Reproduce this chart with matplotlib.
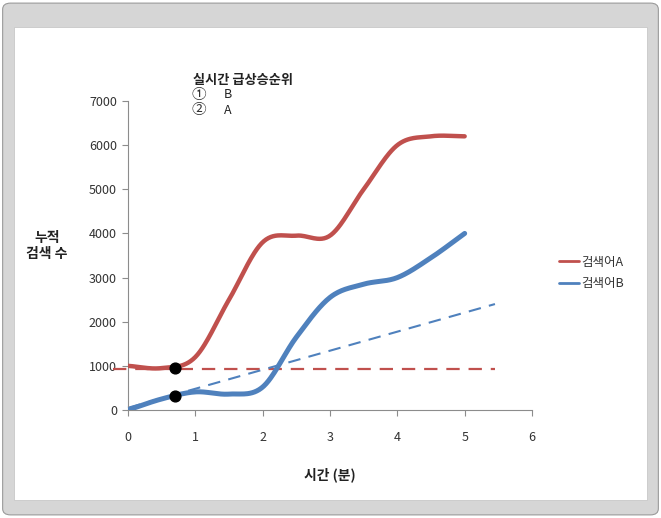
import numpy as np
import matplotlib
matplotlib.use("Agg")
import matplotlib.pyplot as plt
from matplotlib.patches import FancyBboxPatch, Rectangle

plt.rcParams['font.family'] = ['Noto Sans CJK KR', 'DejaVu Sans']

# ---- data ----
x_pts = [0, 0.5, 1, 1.5, 2, 2.5, 3, 3.5, 4, 4.5, 5]
series_a = [1000, 950, 1200, 2500, 3800, 3950, 3950, 5000, 6000, 6200, 6200]
series_b = [0, 250, 410, 360, 520, 1650, 2550, 2850, 3000, 3450, 4000]
names = ['검색어A', '검색어B']
ref_a_x = [-0.22, 5.45]
ref_a_y = [930, 930]
ref_b_x = [0, 5.45]
ref_b_y = [50, 2400]
mark_x = [0.7, 0.7]
mark_y = [955, 325]
xticks = [0, 1, 2, 3, 4, 5, 6]
yticks = [0, 1000, 2000, 3000, 4000, 5000, 6000, 7000]
rank_title = '실시간 급상승순위'
rank_items = [('①', 'B'), ('②', 'A')]

RED = '#C0504D'
BLUE = '#4F81BD'


def smooth(xs, ys, n=30):
    xs = np.asarray(xs, float)
    ys = np.asarray(ys, float)
    P = np.column_stack([xs, ys])
    P = np.vstack([2 * P[0] - P[1], P, 2 * P[-1] - P[-2]])
    out = []
    t = np.linspace(0, 1, n)[:, None]
    for i in range(1, len(P) - 2):
        p0, p1, p2, p3 = P[i - 1], P[i], P[i + 1], P[i + 2]
        seg = 0.5 * ((2 * p1) + (-p0 + p2) * t + (2 * p0 - 5 * p1 + 4 * p2 - p3) * t ** 2
                     + (-p0 + 3 * p1 - 3 * p2 + p3) * t ** 3)
        out.append(seg if i == 1 else seg[1:])
    S = np.vstack(out)
    return S[:, 0], S[:, 1]


fig = plt.figure(figsize=(6.61, 5.18), dpi=100)

# frame
fig.patches.append(FancyBboxPatch((0.004, 0.006), 0.992, 0.988,
                                  boxstyle='round,pad=0,rounding_size=0.012',
                                  transform=fig.transFigure, facecolor='#d6d6d6',
                                  edgecolor='#9a9a9a', linewidth=0.8, zorder=-10))
fig.patches.append(Rectangle((14 / 661, 1 - 500 / 518), (647 - 14) / 661, (500 - 27) / 518,
                             transform=fig.transFigure, facecolor='white',
                             edgecolor='#c8c8c8', linewidth=0.6, zorder=-9))

ax = fig.add_axes([128 / 661, 1 - 410 / 518, 404 / 661, 309 / 518])
ax.set_facecolor('none')

xa, ya = smooth(x_pts, series_a)
xb, yb = smooth(x_pts, series_b)
la, = ax.plot(xa, ya, color=RED, lw=3.2, solid_capstyle='round', zorder=3)
lb, = ax.plot(xb, yb, color=BLUE, lw=3.6, solid_capstyle='round', zorder=3)
ax.plot(ref_a_x, ref_a_y, color=RED, lw=1.6, dashes=(6, 4), clip_on=False, zorder=2)
ax.plot(ref_b_x, ref_b_y, color=BLUE, lw=1.5, dashes=(6, 4), clip_on=False, zorder=2)
ax.scatter(mark_x, mark_y, s=60, color='black', zorder=5, clip_on=False)

ax.set_xlim(0, 6)
ax.set_ylim(0, 7000)
ax.set_xticks(xticks)
ax.set_yticks(yticks)
for s in ['top', 'right']:
    ax.spines[s].set_visible(False)
for s in ['left', 'bottom']:
    ax.spines[s].set_color('#8c8c8c')
    ax.spines[s].set_linewidth(0.8)
ax.tick_params(axis='x', length=4, width=0.8, color='#8c8c8c', pad=11, labelsize=9,
               labelcolor='#333333')
ax.tick_params(axis='y', length=4, width=0.8, color='#8c8c8c', pad=4, labelsize=9,
               labelcolor='#333333')

fig.text(330 / 661, 1 - 475 / 518, '시간 (분)', ha='center', va='center',
         fontsize=10, fontweight='bold', color='#222222')
fig.text(47 / 661, 1 - 246 / 518, '누적\n검색 수', ha='center', va='center',
         fontsize=10, fontweight='bold', color='#222222', linespacing=1.1)

fig.text(193 / 661, 1 - 80 / 518, rank_title, ha='left', va='center',
         fontsize=9.5, fontweight='bold', color='#222222')
for i, (num, lab) in enumerate(rank_items):
    yy = 1 - (95 + 15 * i) / 518
    fig.text(192 / 661, yy, num, ha='left', va='center', fontsize=10.5, color='#333333')
    fig.text(224 / 661, yy, lab, ha='left', va='center', fontsize=9, color='#222222')

leg = fig.legend([la, lb], names, loc='center left',
                 bbox_to_anchor=(548 / 661, 1 - 273 / 518), frameon=False,
                 fontsize=9, handlelength=1.6, handletextpad=0.15, labelspacing=0.7)
for h in leg.legend_handles:
    h.set_linewidth(2.0)
for t in leg.get_texts():
    t.set_color('#333333')

fig.savefig('out.png', dpi=100)
